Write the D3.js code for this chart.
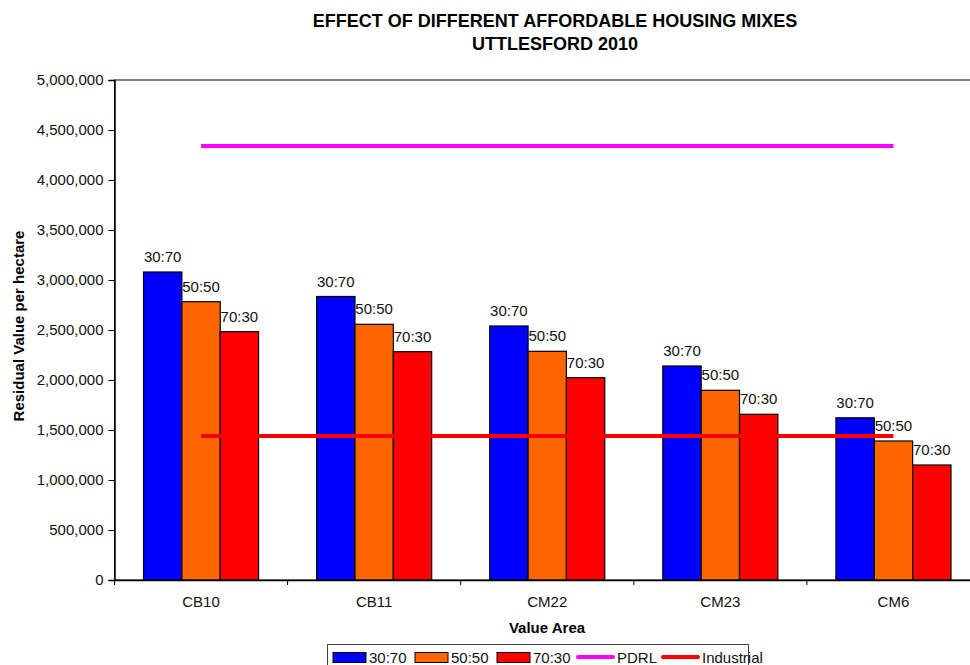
<!DOCTYPE html>
<html>
<head>
<meta charset="utf-8">
<script src="https://cdn.jsdelivr.net/npm/d3@7"></script>
<style>
  html, body { margin: 0; padding: 0; background: #fff; }
  svg { display: block; font-family: Arial, "Liberation Sans", sans-serif; }
</style>
</head>
<body>
<div id="chart"></div>
<script>
// values
const categories = ["CB10", "CB11", "CM22", "CM23", "CM6"];
const mixes = ["30:70", "50:50", "70:30"];
const mix3070 = [3080000, 2835000, 2540000, 2140000, 1622000];
const mix5050 = [2783000, 2557000, 2287000, 1897000, 1390000];
const mix7030 = [2483000, 2283000, 2023000, 1657000, 1150000];
const pdrl = 4340000;
const industrial = 1440000;
const yTicks = [0, 500000, 1000000, 1500000, 2000000, 2500000, 3000000, 3500000, 4000000, 4500000, 5000000];

const barColors = { "30:70": "#0000ff", "50:50": "#ff6600", "70:30": "#ff0000" };
const seriesVals = { "30:70": mix3070, "50:50": mix5050, "70:30": mix7030 };

const W = 970, H = 665;
const plot = { left: 114.5, top: 80, bottom: 580, right: 980 };

const svg = d3.select("#chart").append("svg").attr("width", W).attr("height", H);

const x0 = d3.scaleBand().domain(categories).range([plot.left, plot.right]);
const x1 = d3.scaleBand().domain(mixes).range([0, x0.bandwidth()]).paddingOuter(0.757);
const y = d3.scaleLinear().domain([0, 5000000]).range([plot.bottom, plot.top]);

// plot frame (top + left; right side falls off the canvas)
svg.append("rect")
  .attr("x", plot.left).attr("y", plot.top)
  .attr("width", plot.right - plot.left).attr("height", plot.bottom - plot.top)
  .attr("fill", "none").attr("stroke", "#000").attr("stroke-width", 1);

// bars
const groups = svg.append("g").selectAll("g").data(categories).join("g")
  .attr("transform", (d) => `translate(${x0(d)},0)`);

groups.selectAll("rect")
  .data((c, i) => mixes.map((m) => ({ m, v: seriesVals[m][i] })))
  .join("rect")
  .attr("x", (d) => x1(d.m))
  .attr("y", (d) => y(d.v))
  .attr("width", x1.bandwidth())
  .attr("height", (d) => y(0) - y(d.v))
  .attr("fill", (d) => barColors[d.m])
  .attr("stroke", "#000")
  .attr("stroke-width", 1.2);

groups.selectAll("text")
  .data((c, i) => mixes.map((m) => ({ m, v: seriesVals[m][i] })))
  .join("text")
  .attr("x", (d) => x1(d.m) + x1.bandwidth() / 2)
  .attr("y", (d) => y(d.v) - 10)
  .attr("text-anchor", "middle")
  .attr("font-size", 15)
  .attr("fill", "#111")
  .text((d) => d.m);

// reference lines
const lineX1 = x0(categories[0]) + x0.bandwidth() / 2;
const lineX2 = x0(categories[categories.length - 1]) + x0.bandwidth() / 2;
svg.append("line")
  .attr("x1", lineX1).attr("x2", lineX2)
  .attr("y1", y(pdrl)).attr("y2", y(pdrl))
  .attr("stroke", "#ff00ff").attr("stroke-width", 4);
svg.append("line")
  .attr("x1", lineX1).attr("x2", lineX2)
  .attr("y1", y(industrial)).attr("y2", y(industrial))
  .attr("stroke", "#ff0000").attr("stroke-width", 4);

// y axis
const yAxis = svg.append("g")
  .attr("transform", `translate(${plot.left},0)`)
  .call(d3.axisLeft(y).tickValues(yTicks).tickFormat(d3.format(",")).tickSize(6).tickPadding(5));
yAxis.select(".domain").attr("stroke", "#000").attr("stroke-width", 1.5);
yAxis.selectAll(".tick line").attr("stroke", "#000");
yAxis.selectAll("text").attr("font-size", 15).attr("fill", "#111")
  .attr("font-family", "Arial, 'Liberation Sans', sans-serif");

// x axis
const xAxis = svg.append("g")
  .attr("transform", `translate(0,${plot.bottom})`)
  .call(d3.axisBottom(x0).tickSize(0).tickPadding(16));
xAxis.select(".domain").attr("stroke", "#000").attr("stroke-width", 1.5);
xAxis.selectAll("text").attr("font-size", 15).attr("fill", "#111")
  .attr("font-family", "Arial, 'Liberation Sans', sans-serif");
xAxis.selectAll("line.cat-tick")
  .data(categories.slice(1).concat(["end"]))
  .join("line")
  .attr("class", "cat-tick")
  .attr("x1", (d, i) => plot.left + (i + 1) * x0.bandwidth())
  .attr("x2", (d, i) => plot.left + (i + 1) * x0.bandwidth())
  .attr("y1", 0).attr("y2", 5)
  .attr("stroke", "#000");
xAxis.append("line")
  .attr("x1", plot.left).attr("x2", plot.left).attr("y1", 0).attr("y2", 5)
  .attr("stroke", "#000");

// titles
const title = svg.append("text")
  .attr("x", 555).attr("y", 27)
  .attr("text-anchor", "middle")
  .attr("font-size", 18).attr("font-weight", "bold").attr("fill", "#000");
title.append("tspan").attr("x", 555).text("EFFECT OF DIFFERENT AFFORDABLE HOUSING MIXES");
title.append("tspan").attr("x", 555).attr("dy", 23).text("UTTLESFORD 2010");

svg.append("text")
  .attr("x", 547).attr("y", 633)
  .attr("text-anchor", "middle")
  .attr("font-size", 15).attr("font-weight", "bold").attr("fill", "#000")
  .text("Value Area");

svg.append("text")
  .attr("transform", `translate(24,${326}) rotate(-90)`)
  .attr("text-anchor", "middle")
  .attr("font-size", 15).attr("font-weight", "bold").attr("fill", "#000")
  .text("Residual Value per hectare");

// legend
const legend = svg.append("g");
legend.append("rect")
  .attr("x", 327.5).attr("y", 644.5).attr("width", 421).attr("height", 30)
  .attr("fill", "#fff").attr("stroke", "#444").attr("stroke-width", 1);

const legendItems = [
  { label: "30:70", type: "bar", color: barColors["30:70"], x: 333 },
  { label: "50:50", type: "bar", color: barColors["50:50"], x: 415 },
  { label: "70:30", type: "bar", color: barColors["70:30"], x: 497 },
  { label: "PDRL", type: "line", color: "#ff00ff", x: 578 },
  { label: "Industrial", type: "line", color: "#ff0000", x: 663 },
];
legendItems.forEach((it) => {
  if (it.type === "bar") {
    legend.append("rect")
      .attr("x", it.x).attr("y", 652.5).attr("width", 33).attr("height", 10)
      .attr("fill", it.color).attr("stroke", "#000").attr("stroke-width", 1);
  } else {
    legend.append("line")
      .attr("x1", it.x).attr("x2", it.x + 35).attr("y1", 657).attr("y2", 657)
      .attr("stroke", it.color).attr("stroke-width", 4).attr("stroke-linecap", "round");
  }
  legend.append("text")
    .attr("x", it.x + (it.type === "bar" ? 36 : 39)).attr("y", 663)
    .attr("font-size", 15).attr("fill", "#111")
    .text(it.label);
});
</script>
</body>
</html>
